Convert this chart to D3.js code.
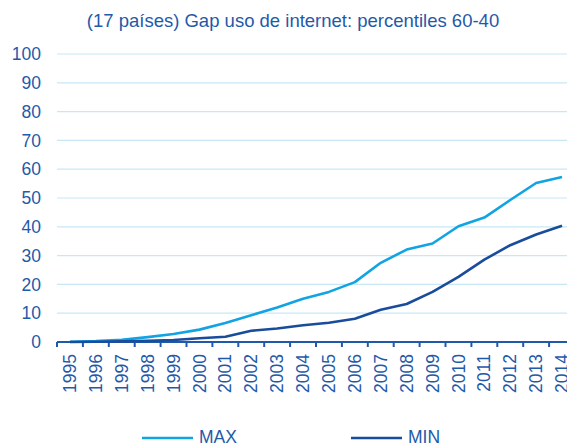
<!DOCTYPE html>
<html>
<head>
<meta charset="utf-8">
<script src="https://cdn.jsdelivr.net/npm/d3@7"></script>
<style>
  html, body { margin: 0; padding: 0; background: #fff; }
  svg { display: block; font-family: "Liberation Sans", Arial, sans-serif; }
</style>
</head>
<body>
<svg id="chart" width="567" height="445"></svg>
<script>
// Internet use gap, percentiles 60-40, 17 countries
const years = ["1995","1996","1997","1998","1999","2000","2001","2002","2003","2004",
               "2005","2006","2007","2008","2009","2010","2011","2012","2013","2014"];
const maxValues = [0.1, 0.3, 0.8, 1.7, 2.8, 4.3, 6.6, 9.3, 12.0, 15.0,
                   17.4, 20.8, 27.5, 32.1, 34.2, 40.2, 43.2, 49.3, 55.2, 57.3];
const minValues = [0.0, 0.1, 0.2, 0.4, 0.7, 1.3, 1.8, 3.9, 4.7, 5.8,
                   6.7, 8.1, 11.2, 13.2, 17.4, 22.6, 28.6, 33.6, 37.3, 40.4];
const yTicks = [0, 10, 20, 30, 40, 50, 60, 70, 80, 90, 100];
const seriesNames = ["MAX", "MIN"];

const textColor = "#1f5aaa";
const colors = { MAX: "#12a3e2", MIN: "#1a4c9c" };

const svg = d3.select("#chart");
const plot = { left: 57, right: 575, top: 54, bottom: 342 };

const x = d3.scaleBand().domain(years).range([plot.left, plot.right]).padding(0);
const y = d3.scaleLinear().domain([0, 100]).range([plot.bottom, plot.top]);

// title
svg.append("text")
  .attr("x", 293).attr("y", 27)
  .attr("text-anchor", "middle")
  .attr("fill", textColor)
  .style("font-size", "18.5px")
  .text("(17 países) Gap uso de internet: percentiles 60-40");

// horizontal gridlines
svg.append("g")
  .selectAll("line")
  .data(yTicks.filter(d => d > 0))
  .join("line")
  .attr("x1", plot.left).attr("x2", 567)
  .attr("y1", d => y(d)).attr("y2", d => y(d))
  .attr("stroke", "#c8e8f6").attr("stroke-width", 1.2);

// y axis labels
const yAxis = svg.append("g")
  .attr("transform", `translate(${plot.left},0)`)
  .call(d3.axisLeft(y).tickValues(yTicks).tickSize(0).tickPadding(16));
yAxis.select(".domain").remove();
yAxis.selectAll("text")
  .attr("fill", textColor)
  .style("font-size", "17.5px")
  .style("font-family", "Liberation Sans, Arial, sans-serif");

// x axis with ticks at category boundaries
svg.append("line")
  .attr("x1", plot.left).attr("x2", 567)
  .attr("y1", plot.bottom).attr("y2", plot.bottom)
  .attr("stroke", textColor).attr("stroke-width", 2.2);
svg.append("g")
  .selectAll("line")
  .data(years)
  .join("line")
  .attr("x1", d => x(d)).attr("x2", d => x(d))
  .attr("y1", plot.bottom).attr("y2", plot.bottom + 5)
  .attr("stroke", textColor).attr("stroke-width", 2);

svg.append("g")
  .selectAll("text")
  .data(years)
  .join("text")
  .attr("transform", d => `translate(${x(d) + x.bandwidth() / 2},${plot.bottom + 12}) rotate(-90)`)
  .attr("text-anchor", "end")
  .attr("dy", "0.35em")
  .attr("fill", textColor)
  .style("font-size", "17.5px")
  .text(d => d);

// lines
const line = d3.line()
  .x((d, i) => x(years[i]) + x.bandwidth() / 2)
  .y(d => y(d));

svg.append("path")
  .datum(maxValues)
  .attr("d", line)
  .attr("fill", "none")
  .attr("stroke", colors.MAX)
  .attr("stroke-width", 2.6)
  .attr("stroke-linejoin", "round");

svg.append("path")
  .datum(minValues)
  .attr("d", line)
  .attr("fill", "none")
  .attr("stroke", colors.MIN)
  .attr("stroke-width", 2.6)
  .attr("stroke-linejoin", "round");

// legend
const legendX = { MAX: 142, MIN: 351 };
const legend = svg.append("g")
  .selectAll("g")
  .data(seriesNames)
  .join("g")
  .attr("transform", d => `translate(${legendX[d]},438)`);
legend.append("line")
  .attr("x1", 0).attr("x2", 51)
  .attr("stroke", d => colors[d]).attr("stroke-width", 2.6);
legend.append("text")
  .attr("x", 57).attr("y", 4.5)
  .attr("fill", textColor)
  .style("font-size", "17.5px")
  .text(d => d);
</script>
</body>
</html>
